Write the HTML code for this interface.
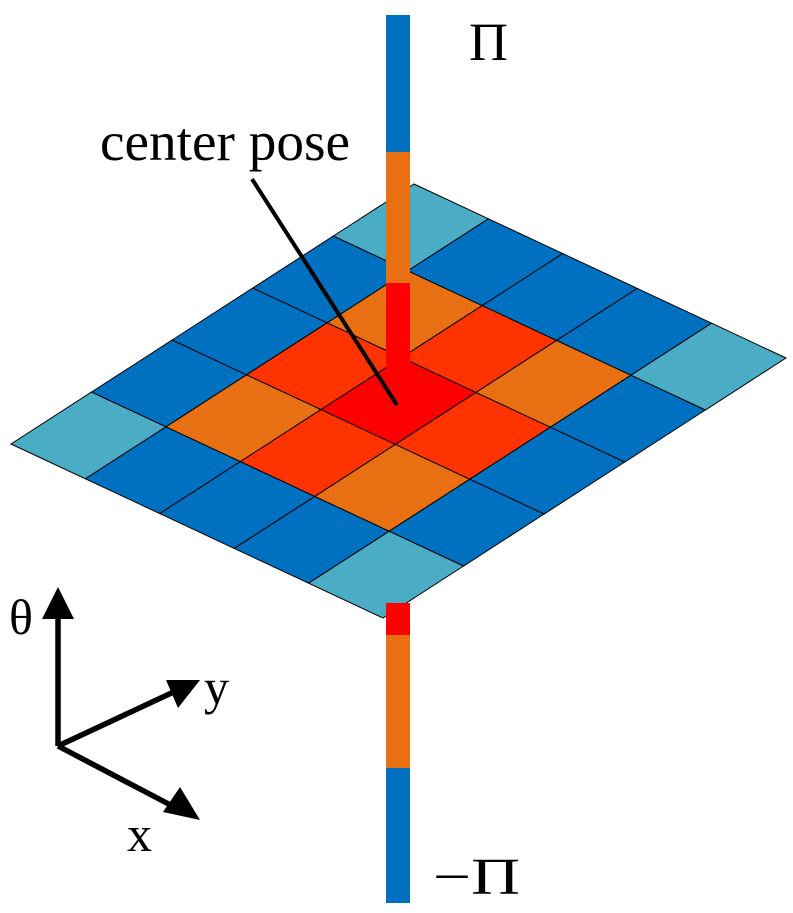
<!DOCTYPE html>
<html><head><meta charset="utf-8"><style>html,body{margin:0;padding:0;background:#fff}svg{display:block}</style></head>
<body>
<svg id="s" width="793" height="913" viewBox="0 0 793 913" xmlns="http://www.w3.org/2000/svg" font-family="Liberation Serif, serif">
<g id="grid"></g>
<rect x="386" y="15" width="24" height="137" fill="#0070C0"/>
<rect x="386" y="152" width="24" height="131" fill="#E97012"/>
<rect x="386" y="283" width="24" height="90" fill="#FF0000"/>
<rect x="386" y="603" width="24" height="33" fill="#FF0000"/>
<rect x="386" y="635" width="24" height="133" fill="#E97012"/>
<rect x="386" y="768" width="24" height="135" fill="#0070C0"/>
<line x1="252" y1="179" x2="397" y2="405" stroke="#000" stroke-width="4"/>
<text x="100" y="160" font-size="55" textLength="250" lengthAdjust="spacingAndGlyphs">center pose</text>
<text x="469" y="60" font-size="54">Π</text>
<text x="433" y="894" font-size="52" textLength="87" lengthAdjust="spacingAndGlyphs">−Π</text>
<g stroke="#000" stroke-width="5.5" fill="none">
<line x1="58" y1="746" x2="58" y2="610"/>
<line x1="58" y1="746" x2="180" y2="689"/>
<line x1="58" y1="746" x2="180" y2="810"/>
</g>
<polygon points="58,587 42,619 74,619" fill="#000"/>
<polygon points="200,680 166,680 178,708" fill="#000"/>
<polygon points="200,820 163,812 180,787" fill="#000"/>
<text x="9" y="634" font-size="50">θ</text>
<text x="204" y="704" font-size="50">y</text>
<text x="127" y="851" font-size="50">x</text>
</svg>
<script>
var L=[11,444],u=[80.6,-52],v=[74.4,34.8],g=document.getElementById('grid'),h='';
function P(i,j){return (L[0]+i*u[0]+j*v[0]).toFixed(1)+','+(L[1]+i*u[1]+j*v[1]).toFixed(1);}
for(var i=0;i<5;i++)for(var j=0;j<5;j++){
var c='#0070C0';var di=Math.abs(i-2),dj=Math.abs(j-2);
if((i==0||i==4)&&(j==0||j==4))c='#4BACC6';
else if(di==0&&dj==0)c='#FF0000';
else if(di+dj==1)c='#FF3300';
else if(di==1&&dj==1)c='#E97012';
h+='<polygon points="'+P(i,j)+' '+P(i+1,j)+' '+P(i+1,j+1)+' '+P(i,j+1)+'" fill="'+c+'" stroke="#000" stroke-width="1"/>';}
g.innerHTML=h;
</script>
</body></html>
